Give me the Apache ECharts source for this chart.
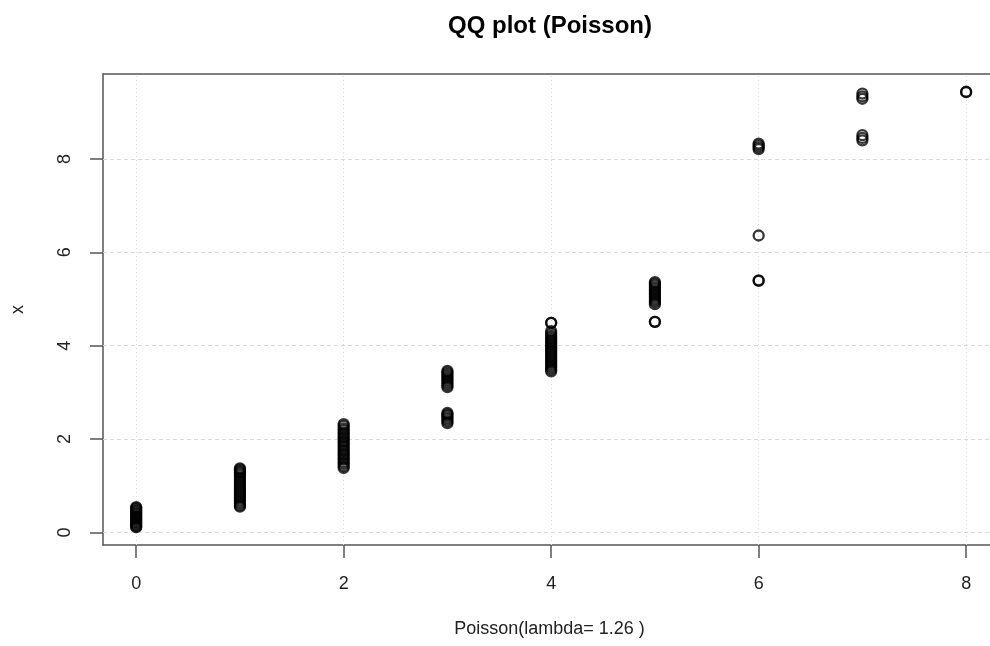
<!DOCTYPE html>
<html>
<head>
<meta charset="utf-8">
<script src="https://cdn.jsdelivr.net/npm/echarts@6/dist/echarts.min.js"></script>
<style>
  html, body { margin: 0; padding: 0; background: #fff; }
  #chart { width: 990px; height: 646px; }
</style>
</head>
<body>
<div id="chart"></div>
<script>
// theoretical Poisson quantile for each group, and the sorted sample values that fall on it
const quantiles = [0, 1, 2, 3, 4, 5, 6, 7, 8];
const group0 = [0.11, 0.13, 0.16, 0.19, 0.22, 0.25, 0.28, 0.31, 0.34, 0.37, 0.40, 0.43, 0.46, 0.49, 0.52, 0.54];
const group1 = [0.55, 0.58, 0.62, 0.66, 0.70, 0.74, 0.78, 0.82, 0.86, 0.90, 0.94, 0.98, 1.02, 1.06, 1.10, 1.14,
                1.18, 1.22, 1.26, 1.29, 1.32, 1.35, 1.37];
const group2 = [1.38, 1.42, 1.47, 1.51, 1.56, 1.60, 1.65, 1.69, 1.74, 1.78, 1.83, 1.87, 1.92, 1.96, 2.01, 2.05,
                2.10, 2.14, 2.19, 2.23, 2.28, 2.32];
const group3 = [2.34, 2.38, 2.42, 2.46, 2.50, 2.53, 2.56, 3.11, 3.15, 3.19, 3.23, 3.27, 3.31, 3.35, 3.39, 3.43, 3.46];
const group4 = [3.45, 3.49, 3.53, 3.57, 3.61, 3.65, 3.69, 3.73, 3.77, 3.81, 3.85, 3.89, 3.93, 3.97, 4.01, 4.05,
                4.09, 4.13, 4.17, 4.21, 4.26, 4.31, 4.49, 4.49];
const group5 = [4.51, 4.51, 4.89, 4.93, 4.97, 5.01, 5.05, 5.09, 5.13, 5.17, 5.21, 5.25, 5.29, 5.33, 5.36];
const group6 = [5.39, 5.40, 6.36, 8.21, 8.25, 8.29, 8.33];
const group7 = [8.40, 8.45, 8.51, 9.29, 9.34, 9.40];
const group8 = [9.43, 9.44];

const xTicks = [0, 2, 4, 6, 8];
const yTicks = [0, 2, 4, 6, 8];

const groups = [group0, group1, group2, group3, group4, group5, group6, group7, group8];
const points = [];
groups.forEach((g, i) => g.forEach(v => points.push([quantiles[i], v])));

const chart = echarts.init(document.getElementById('chart'));

const font = 'Liberation Sans, Arial, Helvetica, sans-serif';
const gridLine = { color: '#d9d9d9', width: 1 };
const frame = { show: true, onZero: false, lineStyle: { color: '#555', width: 1.5 } };

chart.setOption({
  animation: false,
  backgroundColor: '#fff',
  graphic: [{
    type: 'text',
    left: 448,
    top: 14,
    style: {
      text: 'QQ plot (Poisson)',
      font: 'bold 24px ' + font,
      fill: '#000'
    }
  }],
  grid: { left: 103, top: 74, bottom: 101, right: 0 },
  xAxis: [{
    type: 'value',
    min: -0.32, max: 8.23,
    name: 'Poisson(lambda= 1.26 )',
    nameLocation: 'middle',
    nameGap: 75,
    nameTextStyle: { fontFamily: font, fontSize: 18, color: '#222', padding: [0, 0, 0, 6] },
    axisLine: frame,
    axisTick: { show: true, customValues: xTicks, length: 13, lineStyle: { color: '#555', width: 1.5 } },
    axisLabel: { customValues: xTicks, margin: 30, fontFamily: font, fontSize: 18, color: '#222' },
    splitLine: { show: false }
  }, {
    type: 'value',
    position: 'top',
    min: -0.32, max: 8.23,
    axisLine: frame,
    axisTick: { show: false },
    axisLabel: { show: false },
    splitLine: { show: false }
  }],
  yAxis: {
    type: 'value',
    min: -0.27, max: 9.82,
    name: 'x',
    nameLocation: 'middle',
    nameRotate: 90,
    nameGap: 76,
    nameTextStyle: { fontFamily: font, fontSize: 18, color: '#222' },
    axisLine: frame,
    axisTick: { show: true, customValues: yTicks, length: 13, lineStyle: { color: '#555', width: 1.5 } },
    axisLabel: { customValues: yTicks, rotate: 90, margin: 29, fontFamily: font, fontSize: 18, color: '#222' },
    splitLine: { show: false }
  },
  series: [{
    type: 'scatter',
    symbol: 'circle',
    symbolSize: 10,
    data: points,
    itemStyle: { color: 'rgba(0,0,0,0)', borderColor: 'rgba(0,0,0,0.78)', borderWidth: 2.3, opacity: 1 },
    markLine: {
      silent: true,
      symbol: 'none',
      label: { show: false },
      z: 1,
      data: xTicks.map(v => ({ xAxis: v, lineStyle: Object.assign({ type: [1, 3] }, gridLine) }))
        .concat(yTicks.map(v => ({ yAxis: v, lineStyle: Object.assign({ type: [4, 3] }, gridLine) })))
    }
  }]
});
</script>
</body>
</html>
